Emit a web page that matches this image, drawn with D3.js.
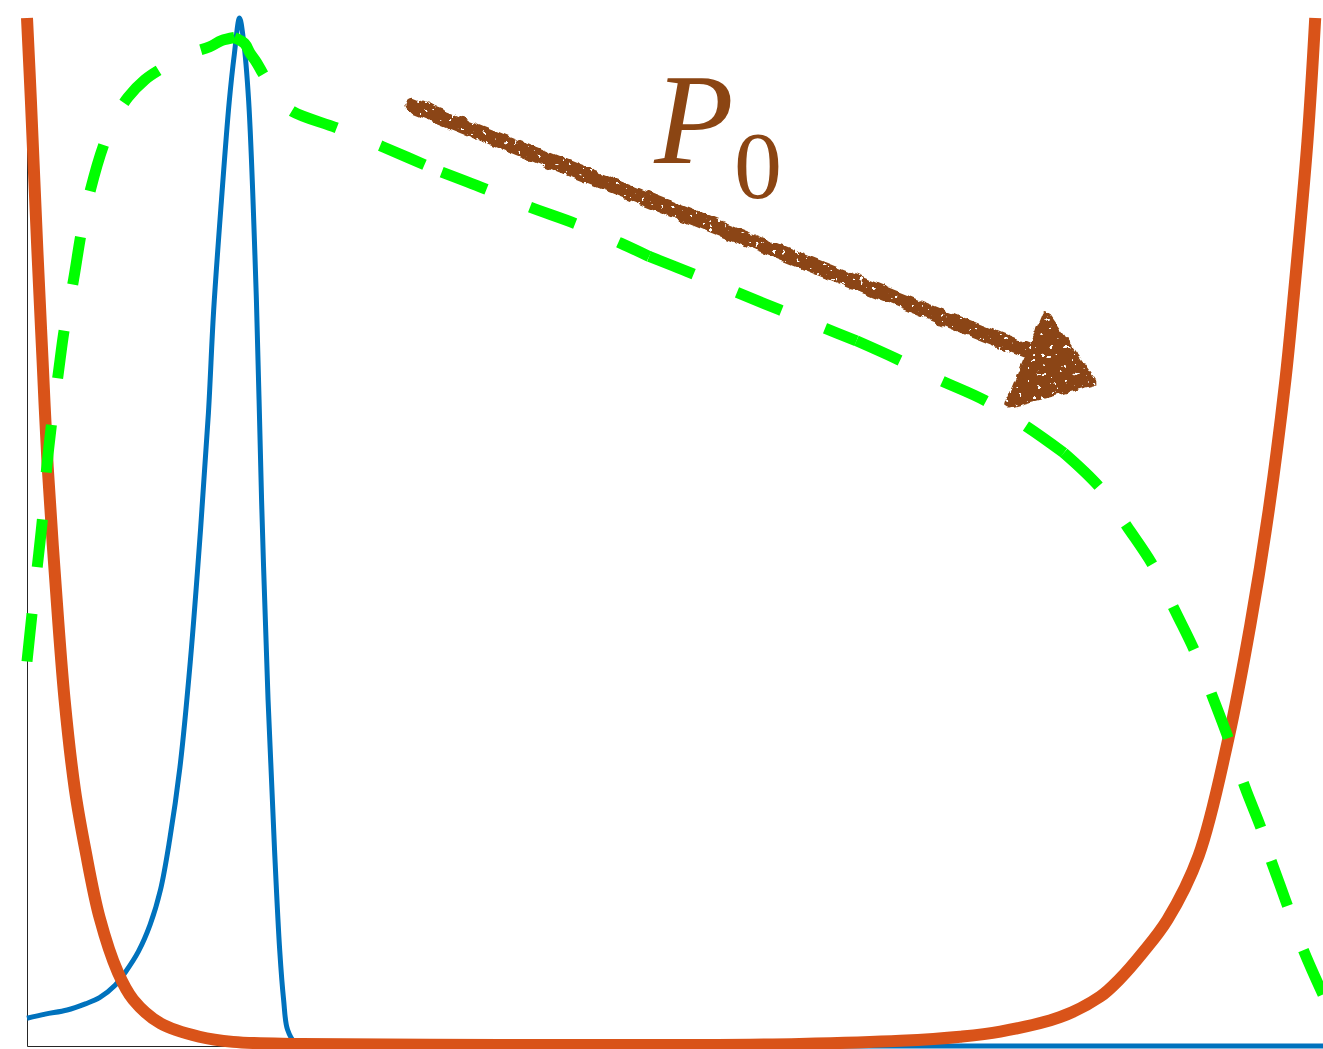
<!DOCTYPE html>
<html>
<head>
<meta charset="utf-8">
<script src="https://cdn.jsdelivr.net/npm/d3@7"></script>
<style>
  html, body { margin: 0; padding: 0; background: #ffffff; }
  svg { display: block; }
</style>
</head>
<body>
<svg id="chart" width="1323" height="1049"></svg>
<script>
// Density profile (blue): sharp peak, zero beyond
const blueX = [0, 0.014, 0.031, 0.045, 0.056, 0.068, 0.076, 0.086, 0.095, 0.103, 0.110, 0.118, 0.126, 0.134, 0.140, 0.144,
               0.150, 0.156, 0.160, 0.164,
               0.167, 0.171, 0.177, 0.181, 0.186, 0.191, 0.195, 0.198, 0.201, 0.207, 0.215, 0.4, 1];
const blueY = [0.027, 0.031, 0.035, 0.041, 0.047, 0.059, 0.072, 0.092, 0.118, 0.152, 0.200, 0.271, 0.374, 0.504, 0.616, 0.715,
               0.822, 0.918, 0.965, 1.0,
               0.979, 0.920, 0.726, 0.531, 0.337, 0.191, 0.093, 0.045, 0.016, 0.003, 0, 0, 0];

// Potential well (orange): steep walls at both ends
const orangeX = [0, 0.003, 0.008, 0.012, 0.016, 0.022, 0.029, 0.037, 0.045, 0.056, 0.070, 0.082, 0.103, 0.133, 0.159, 0.211,
                 0.365, 0.519, 0.596, 0.674, 0.720, 0.751, 0.797, 0.828, 0.843, 0.861, 0.880, 0.904, 0.927, 0.944,
                 0.958, 0.971, 0.977, 0.988, 0.994];
const orangeY = [1.0, 0.920, 0.774, 0.667, 0.563, 0.450, 0.337, 0.249, 0.191, 0.125, 0.072, 0.045, 0.022, 0.009, 0.004, 0.002,
                 0.001, 0.001, 0.002, 0.005, 0.009, 0.014, 0.028, 0.048, 0.065, 0.091, 0.123, 0.185, 0.299, 0.410,
                 0.520, 0.648, 0.724, 0.880, 1.0];

// Broad profile (green, dashed), plotted in pieces that meet at greenBreaks
const greenX = [0, 0.004, 0.008, 0.012, 0.015, 0.019, 0.024, 0.029, 0.036, 0.042, 0.049, 0.059, 0.068, 0.078, 0.091, 0.104,
                0.122, 0.141, 0.150, 0.160, 0.168, 0.172, 0.177, 0.182, 0.189, 0.195, 0.205, 0.239, 0.274, 0.320, 0.353,
                0.388, 0.423, 0.458, 0.480, 0.512, 0.546, 0.581, 0.616, 0.640, 0.670, 0.704, 0.739, 0.772, 0.800, 0.828,
                0.849, 0.869, 0.886, 0.901, 0.915, 0.927, 0.940, 0.953, 0.960, 0.971, 0.984, 1];
const greenY = [0.374, 0.422, 0.467, 0.514, 0.560, 0.606, 0.653, 0.699, 0.746, 0.792, 0.833, 0.876, 0.903, 0.923, 0.940, 0.951,
                0.964, 0.972, 0.978, 0.981, 0.975, 0.966, 0.957, 0.946, 0.932, 0.920, 0.909, 0.893, 0.875, 0.850, 0.834,
                0.816, 0.800, 0.781, 0.768, 0.752, 0.734, 0.716, 0.698, 0.686, 0.669, 0.648, 0.628, 0.602, 0.577, 0.543,
                0.505, 0.467, 0.423, 0.384, 0.339, 0.299, 0.251, 0.209, 0.180, 0.142, 0.096, 0.050];
const greenBreaks = [0.160, 0.320, 0.480, 0.640, 0.800, 0.960];

// Hand-drawn arrow annotation: shaft start/end and triangular head
const arrowShaft = [[0.297, 0.915], [0.774, 0.675]];
const arrowHead = [[0.786, 0.711], [0.758, 0.625], [0.822, 0.646]];
const labelMain = "P";
const labelSub = "0";
const labelPos = [0.484, 0.859];
const labelSubPos = [0.5455, 0.825];

const svg = d3.select("#chart");
const W = 1323, H = 1049;
const margin = { left: 27, right: 0, top: 18, bottom: 3 };

const x = d3.scaleLinear().domain([0, 1]).range([margin.left, W - margin.right]);
const y = d3.scaleLinear().domain([0, 1]).range([H - margin.bottom, margin.top]);

// Filter giving the arrow a rough, chalky look
const defs = svg.append("defs");
const f = defs.append("filter").attr("id", "rough")
  .attr("x", "-5%").attr("y", "-20%").attr("width", "110%").attr("height", "140%");
f.append("feTurbulence").attr("type", "fractalNoise").attr("baseFrequency", 0.09)
  .attr("numOctaves", 2).attr("seed", 4).attr("result", "noise");
f.append("feDisplacementMap").attr("in", "SourceGraphic").attr("in2", "noise")
  .attr("scale", 7).attr("xChannelSelector", "R").attr("yChannelSelector", "G").attr("result", "disp");
f.append("feTurbulence").attr("type", "fractalNoise").attr("baseFrequency", 0.22)
  .attr("numOctaves", 2).attr("seed", 11).attr("result", "speck");
f.append("feColorMatrix").attr("in", "speck").attr("type", "matrix")
  .attr("values", "0 0 0 0 0  0 0 0 0 0  0 0 0 0 0  -30 0 0 0 22").attr("result", "mask");
f.append("feComposite").attr("in", "disp").attr("in2", "mask").attr("operator", "in");

// Axes: bare lines, no ticks
svg.append("g")
  .attr("transform", `translate(0,${y(0)})`)
  .call(d3.axisBottom(x).tickValues([]).tickSizeOuter(0))
  .call(g => g.select(".domain").attr("stroke", "#262626"));
svg.append("g")
  .attr("transform", `translate(${x(0)},0)`)
  .call(d3.axisLeft(y).tickValues([]).tickSizeOuter(0))
  .call(g => g.select(".domain").attr("stroke", "#262626"));

const line = d3.line()
  .x(d => x(d[0]))
  .y(d => y(d[1]))
  .curve(d3.curveCatmullRom.alpha(0.5));

const zip = (xs, ys) => xs.map((v, i) => [v, ys[i]]);

svg.append("path")
  .datum(zip(blueX, blueY))
  .attr("d", line)
  .attr("fill", "none")
  .attr("stroke", "#0072BD")
  .attr("stroke-width", 5)
  .attr("stroke-linejoin", "round");

svg.append("path")
  .datum(zip(orangeX, orangeY))
  .attr("d", line)
  .attr("fill", "none")
  .attr("stroke", "#D95319")
  .attr("stroke-width", 12)
  .attr("stroke-linejoin", "round");

// Split the green series at the break points; each piece restarts its dash pattern
const greenPts = zip(greenX, greenY);
const pieces = [];
let start = 0;
greenBreaks.forEach(b => {
  const idx = greenX.findIndex(v => Math.abs(v - b) < 1e-9);
  pieces.push(greenPts.slice(start, idx + 1));
  start = idx;
});
pieces.push(greenPts.slice(start));

svg.append("g").selectAll("path")
  .data(pieces)
  .join("path")
  .attr("d", line)
  .attr("fill", "none")
  .attr("stroke", "#00FF00")
  .attr("stroke-width", 11)
  .attr("stroke-dasharray", "48,47");

// Arrow
const brown = "#8B4513";
const arrow = svg.append("g").attr("filter", "url(#rough)");
arrow.append("path")
  .datum(arrowShaft)
  .attr("d", d3.line().x(d => x(d[0])).y(d => y(d[1])))
  .attr("stroke", brown)
  .attr("stroke-width", 15)
  .attr("stroke-linecap", "round")
  .attr("fill", "none");
arrow.append("path")
  .datum(arrowHead)
  .attr("d", d => d3.line().x(p => x(p[0])).y(p => y(p[1]))(d) + "Z")
  .attr("fill", brown)
  .attr("stroke", brown)
  .attr("stroke-width", 8)
  .attr("stroke-linejoin", "round");

// Label P_0 as one text: italic P with an upright subscript 0
const label = svg.append("text")
  .attr("font-family", "'Liberation Serif', 'DejaVu Serif', serif")
  .attr("fill", brown);
label.append("tspan")
  .attr("x", x(labelPos[0]))
  .attr("y", y(labelPos[1]))
  .attr("font-style", "italic")
  .attr("font-size", 130)
  .text(labelMain);
label.append("tspan")
  .attr("x", x(labelSubPos[0]))
  .attr("y", y(labelSubPos[1]))
  .attr("font-size", 96)
  .text(labelSub);
</script>
</body>
</html>
